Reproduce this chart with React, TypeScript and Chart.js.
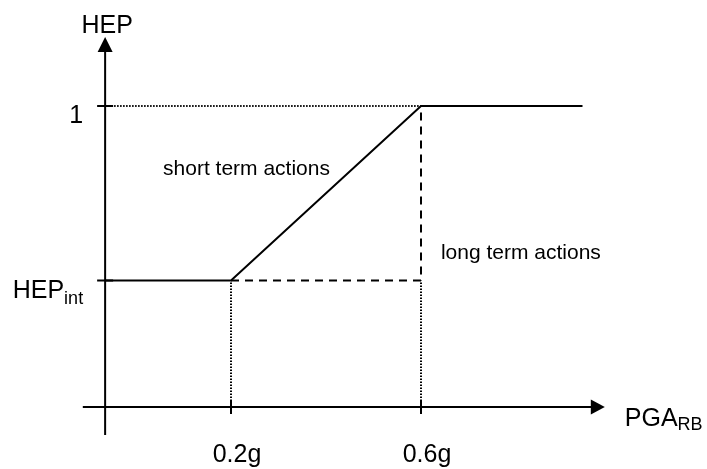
import React, { useEffect, useRef } from "react";
import { Chart, registerables } from "chart.js";

Chart.register(...registerables);

// ---- data (schematic values) ----
const yAxisX = -0.065; // x value where the vertical axis stands
const hepInt = 0.42; // HEP_int level
const curveX = [yAxisX, 0.2, 0.6, 0.94];
const curveY = [hepInt, hepInt, 1, 1];

const xTickValues = [0.2, 0.6];
const xTickLabels = ["0.2g", "0.6g"];
const yTickValues = [hepInt, 1];
const yTickMain = ["HEP", "1"];
const yTickSub = ["int", ""];

const xAxisRange = [-0.112, 0.987];
const yAxisRange = [-0.093, 1.229];

const annotationTexts = ["short term actions", "long term actions"];
const annotationX = [0.057, 0.642];
const annotationY = [0.771, 0.492];

const FONT = "'Liberation Sans', Arial, Helvetica, sans-serif";

function pts(xs: number[], ys: number[]) {
  return xs.map((x, i) => ({ x, y: ys[i] }));
}

const overlay = {
  id: "overlay",
  afterDatasetsDraw(chart: any) {
    const { ctx, scales } = chart;
    const xs = scales.x;
    const ys = scales.y;
    const px = (v: number) => xs.getPixelForValue(v);
    const py = (v: number) => ys.getPixelForValue(v);
    ctx.save();
    ctx.strokeStyle = "#000";
    ctx.fillStyle = "#000";
    ctx.lineWidth = 2;
    ctx.setLineDash([]);

    // horizontal axis
    const ay = py(0);
    const ax0 = px(xAxisRange[0]);
    const ax1 = px(xAxisRange[1]);
    ctx.beginPath();
    ctx.moveTo(ax0, ay);
    ctx.lineTo(ax1 - 10, ay);
    ctx.stroke();
    ctx.beginPath();
    ctx.moveTo(ax1, ay);
    ctx.lineTo(ax1 - 14, ay - 7.5);
    ctx.lineTo(ax1 - 14, ay + 7.5);
    ctx.closePath();
    ctx.fill();

    // vertical axis
    const vx = px(yAxisX);
    const vy0 = py(yAxisRange[0]);
    const vy1 = py(yAxisRange[1]);
    ctx.beginPath();
    ctx.moveTo(vx, vy0);
    ctx.lineTo(vx, vy1 + 10);
    ctx.stroke();
    ctx.beginPath();
    ctx.moveTo(vx, vy1);
    ctx.lineTo(vx - 7.5, vy1 + 15);
    ctx.lineTo(vx + 7.5, vy1 + 15);
    ctx.closePath();
    ctx.fill();

    // ticks
    ctx.beginPath();
    xTickValues.forEach((v) => {
      const tx = px(v);
      ctx.moveTo(tx, ay - 7);
      ctx.lineTo(tx, ay + 7);
    });
    yTickValues.forEach((v) => {
      const ty = py(v);
      ctx.moveTo(vx - 8, ty);
      ctx.lineTo(vx + 8, ty);
    });
    ctx.stroke();

    ctx.textBaseline = "alphabetic";
    // x tick labels
    ctx.font = `25px ${FONT}`;
    ctx.textAlign = "center";
    xTickValues.forEach((v, i) => {
      ctx.fillText(xTickLabels[i], px(v) + 6, ay + 55);
    });

    // y tick labels with subscripts
    ctx.textAlign = "left";
    yTickValues.forEach((v, i) => {
      ctx.font = `25px ${FONT}`;
      const wm = ctx.measureText(yTickMain[i]).width;
      ctx.font = `18px ${FONT}`;
      const wsub = yTickSub[i] ? ctx.measureText(yTickSub[i]).width : 0;
      const right = vx - 22;
      const start = right - wm - wsub;
      const base = py(v) + 17;
      ctx.font = `25px ${FONT}`;
      ctx.fillText(yTickMain[i], start, base);
      if (yTickSub[i]) {
        ctx.font = `18px ${FONT}`;
        ctx.fillText(yTickSub[i], start + wm, base + 6);
      }
    });

    // axis titles
    ctx.font = `25px ${FONT}`;
    ctx.textAlign = "center";
    ctx.fillText("HEP", vx + 2, vy1 - 4);
    ctx.textAlign = "left";
    const tx0 = ax1 + 20;
    ctx.fillText("PGA", tx0, ay + 19);
    const wp = ctx.measureText("PGA").width;
    ctx.font = `18px ${FONT}`;
    ctx.fillText("RB", tx0 + wp, ay + 23);

    // annotations
    ctx.font = `21px ${FONT}`;
    ctx.textAlign = "left";
    annotationTexts.forEach((t, i) => {
      ctx.fillText(t, px(annotationX[i]), py(annotationY[i]));
    });

    ctx.restore();
  },
};

export default function App() {
  const ref = useRef<HTMLCanvasElement | null>(null);
  useEffect(() => {
    if (!ref.current) return;
    const dotted = [1.5, 1.5];
    const dashed = [8, 6];
    const base = {
      showLine: true,
      pointRadius: 0,
      borderColor: "#000",
      fill: false,
      tension: 0,
    };
    const chart = new Chart(ref.current, {
      type: "scatter",
      data: {
        datasets: [
          { ...base, label: "dot1", data: pts([yAxisX, 0.6], [1, 1]), borderWidth: 2, borderDash: dotted },
          { ...base, label: "dot2", data: pts([0.2, 0.2], [0, hepInt]), borderWidth: 2, borderDash: dotted },
          { ...base, label: "dot3", data: pts([0.6, 0.6], [0, hepInt]), borderWidth: 2, borderDash: dotted },
          { ...base, label: "long term", data: pts([0.2, 0.6, 0.6], [hepInt, hepInt, 1]), borderWidth: 2, borderDash: dashed },
          { ...base, label: "short term", data: pts(curveX, curveY), borderWidth: 2 },
        ],
      },
      options: {
        responsive: false,
        animation: false,
        devicePixelRatio: 1,
        layout: { padding: 0 },
        plugins: { legend: { display: false }, tooltip: { enabled: false } },
        events: [],
        scales: {
          x: { type: "linear", display: false, min: -0.28632, max: 1.2021 },
          y: { type: "linear", display: false, min: -0.206, max: 1.35216 },
        },
      },
      plugins: [overlay],
    } as any);
    return () => chart.destroy();
  }, []);
  return (
    <div style={{ position: "fixed", left: 0, top: 0, width: 707, height: 469, background: "#fff" }}>
      <canvas ref={ref} width={707} height={469} style={{ display: "block" }} />
    </div>
  );
}
